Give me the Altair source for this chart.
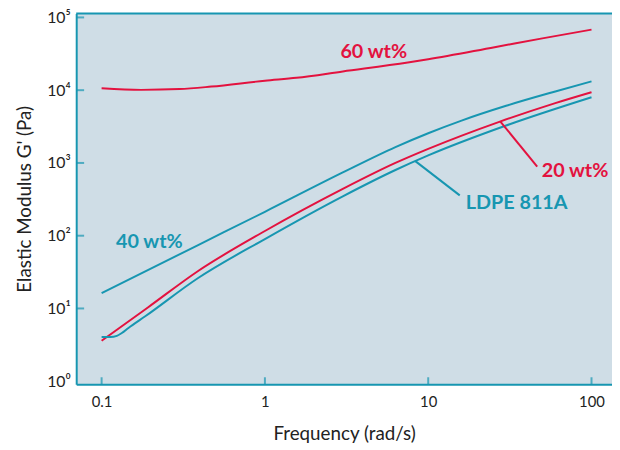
import altair as alt
import pandas as pd

# ---- data ----
freq_60 = [0.1, 0.175, 0.3, 0.47, 1, 1.56, 3, 7.5, 10, 25.5, 50, 100]
g_60 = [10600, 10100, 10350, 11200, 13500, 14800, 18100, 24000, 26600, 39000, 51500, 68000]

freq_40 = [0.1, 0.39, 1, 3, 6.3, 10, 16, 30, 60, 100]
g_40 = [16.2, 74.4, 213, 740, 1650, 2560, 3820, 6100, 9600, 13200]

freq_20 = [0.1, 0.193, 0.388, 1, 3, 6.3, 10, 27.5, 60, 100]
g_20 = [3.6, 10.4, 32.5, 116, 440, 1000, 1560, 3700, 6650, 9400]

freq_ldpe = [0.1, 0.113, 0.124, 0.133, 0.146, 0.185, 0.388, 1, 3, 6.3, 10, 30, 100]
g_ldpe = [4.05, 4.05, 4.2, 4.6, 5.4, 7.8, 26, 90, 348, 800, 1270, 3270, 8000]

x_tick_vals = [0.1, 1, 10, 100]
y_tick_vals = [1, 10, 100, 1000, 10000, 100000]
y_inner_ticks = [10, 100, 1000, 10000, 100000]

label_text = ["60 wt%", "40 wt%", "20 wt%", "LDPE 811A"]
label_f = [4.64, 0.196, 79.3, 34.8]
label_g = [33400, 80.6, 783, 277]
label_series = ["red", "teal", "red", "teal"]

leader_f1 = [46.5, 15.6]
leader_g1 = [887, 358]
leader_f2 = [27.6, 8.34]
leader_g2 = [3740, 1060]
leader_series = ["red", "teal"]

TEAL = "#1796b1"
RED = "#e3123f"
BG = "#cfdde6"
TXT = "#222222"
FONT = "Lato"

W, H = 542, 375
xs = alt.Scale(type="log", domain=[0.0699, 133.5], nice=False)
ys = alt.Scale(type="log", domain=[0.91, 113300], nice=False)
cs = alt.Scale(domain=["red", "teal"], range=[RED, TEAL])

x_axis = alt.Axis(values=x_tick_vals, format="~g", ticks=False, grid=False,
                  domainColor=TEAL, domainWidth=2,
                  labelFont=FONT, labelFontSize=15, labelColor=TXT, labelPadding=11,
                  title="Frequency (rad/s)", titleFont=FONT, titleFontSize=19,
                  titleFontWeight="normal", titleColor=TXT, titlePadding=15)
y_axis = alt.Axis(values=y_tick_vals, ticks=False, grid=False,
                  labelExpr="'10' + ['⁰','¹','²','³','⁴','⁵'][round(log(datum.value)/LN10)]",
                  domainColor=TEAL, domainWidth=2,
                  labelFont=FONT, labelFontSize=16, labelColor=TXT, labelPadding=6,
                  title="Elastic Modulus G' (Pa)", titleFont=FONT, titleFontSize=19,
                  titleFontWeight="normal", titleColor=TXT, titlePadding=12)


def X(field):
    return alt.X(field, scale=xs, axis=x_axis)


def Y(field):
    return alt.Y(field, scale=ys, axis=y_axis)


def curve(f, g, color):
    df = pd.DataFrame({"f": f, "g": g})
    return alt.Chart(df).mark_line(color=color, strokeWidth=2, interpolate="monotone").encode(
        x=X("f:Q"), y=Y("g:Q"))


c60 = curve(freq_60, g_60, RED)
c40 = curve(freq_40, g_40, TEAL)
c20 = curve(freq_20, g_20, RED)
cld = curve(freq_ldpe, g_ldpe, TEAL)

lead_df = pd.DataFrame({"f": leader_f1, "g": leader_g1, "f2": leader_f2,
                        "g2": leader_g2, "s": leader_series})
leaders = alt.Chart(lead_df).mark_rule(strokeWidth=2).encode(
    x=X("f:Q"), y=Y("g:Q"), x2="f2:Q", y2="g2:Q",
    color=alt.Color("s:N", scale=cs, legend=None),
)

lab_df = pd.DataFrame({"f": label_f, "g": label_g, "t": label_text, "s": label_series})
labels = alt.Chart(lab_df).mark_text(font=FONT, fontSize=20, fontWeight="bold",
                                     align="center", baseline="middle").encode(
    x=X("f:Q"), y=Y("g:Q"),
    text="t:N", color=alt.Color("s:N", scale=cs, legend=None),
)

ytick = alt.Chart(pd.DataFrame({"g": y_inner_ticks})).mark_tick(
    color=TEAL, thickness=2, size=8).encode(y=Y("g:Q"), x=alt.value(4))
xtick = alt.Chart(pd.DataFrame({"f": x_tick_vals})).mark_tick(
    color=TEAL, thickness=2, size=7).encode(x=X("f:Q"), y=alt.value(H - 3.5))

top_border = alt.Chart(pd.DataFrame({"k": [0]})).mark_rule(color=TEAL, strokeWidth=2).encode(
    x=alt.value(0), x2=alt.value(W), y=alt.value(0))

chart = alt.layer(c60, c40, c20, cld, leaders, labels, ytick, xtick, top_border).properties(
    width=W, height=H,
    autosize=alt.AutoSizeParams(type="none"),
    padding={"left": 69, "top": 3, "right": 0, "bottom": 62},
    background="white",
).configure_view(fill=BG, stroke=None)

chart.save("out.html", embed_options={"renderer": "svg", "actions": False})
